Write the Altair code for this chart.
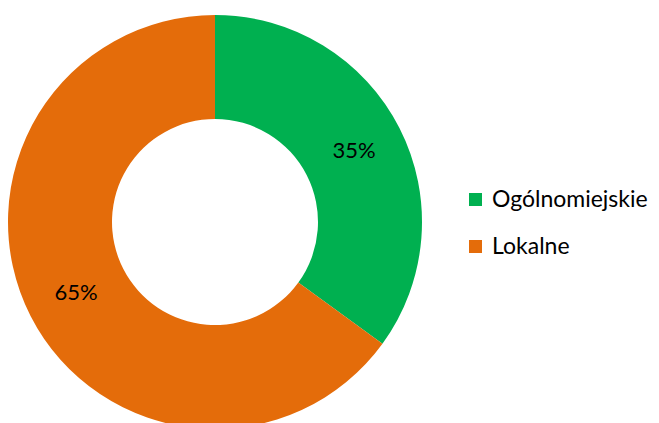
import altair as alt
import pandas as pd

categories = ["Ogólnomiejskie", "Lokalne"]
values = [35, 65]
labels = ["35%", "65%"]
colors = ["#00B050", "#E46C0A"]

df = pd.DataFrame({"cat": categories, "val": values, "label": labels, "ord": [0, 1]})

cx, cy = 215, 222

base = alt.Chart(df).encode(
    theta=alt.Theta("val:Q", stack=True),
    order=alt.Order("ord:Q"),
)

arc = base.mark_arc(outerRadius=207, innerRadius=103).encode(
    x=alt.value(cx), y=alt.value(cy),
    color=alt.Color(
        "cat:N",
        scale=alt.Scale(domain=categories, range=colors),
        legend=alt.Legend(
            title=None, orient="none", legendX=464, legendY=188,
            symbolType="square", symbolSize=169, symbolStrokeWidth=0,
            labelFont="Lato", labelFontSize=23, labelColor="#000000",
            rowPadding=23, labelOffset=5, symbolOpacity=1,
        ),
    ),
)

text = base.mark_text(radius=156, font="Lato", fontSize=22, color="#000000").encode(
    x=alt.value(cx), y=alt.value(cy), text="label:N"
)

chart = (arc + text).properties(
    width=659, height=423, autosize=alt.AutoSizeParams(type="none"), padding=0
).configure_view(stroke=None)

chart.save("out.html", embed_options={"renderer": "svg", "actions": False})
